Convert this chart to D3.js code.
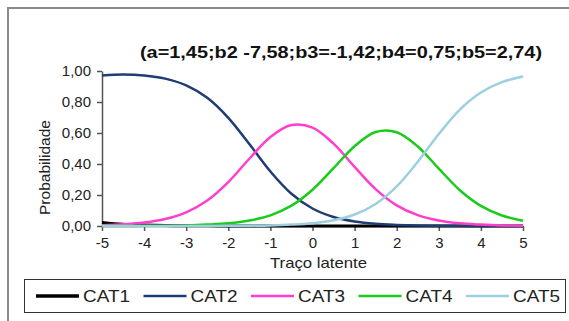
<!DOCTYPE html>
<html>
<head>
<meta charset="utf-8">
<script src="https://cdnjs.cloudflare.com/ajax/libs/d3/7.8.5/d3.min.js"></script>
<style>
  body { margin: 0; background: #fff; }
  svg { display: block; font-family: "Liberation Sans", Arial, sans-serif; }
</style>
</head>
<body>
<svg id="chart" width="569" height="321"></svg>
<script>
// latent trait values (x) and category curves
let theta = [-5, -4.5, -4, -3.5, -3, -2.5, -2, -1.5, -1, -0.5, 0, 0.5, 1, 1.5, 2, 2.5, 3, 3.5, 4, 4.5, 5];
let cat1 = [0.023, 0.011, 0.006, 0.003, 0.001, 0.001, 0, 0, 0, 0, 0, 0, 0, 0, 0, 0, 0, 0, 0, 0, 0];
let cat2 = [0.971, 0.977, 0.971, 0.951, 0.907, 0.827, 0.698, 0.529, 0.352, 0.208, 0.113, 0.058, 0.029, 0.014, 0.007, 0.003, 0.002, 0.001, 0, 0, 0];
let cat3 = [0.005, 0.011, 0.022, 0.045, 0.088, 0.164, 0.283, 0.434, 0.574, 0.651, 0.635, 0.531, 0.381, 0.238, 0.133, 0.07, 0.035, 0.017, 0.009, 0.004, 0.002];
let cat4 = [0, 0, 0.001, 0.002, 0.004, 0.009, 0.017, 0.035, 0.069, 0.131, 0.234, 0.373, 0.515, 0.606, 0.605, 0.513, 0.37, 0.231, 0.13, 0.068, 0.034];
let cat5 = [0, 0, 0, 0, 0, 0, 0.001, 0.002, 0.004, 0.009, 0.018, 0.037, 0.074, 0.142, 0.255, 0.414, 0.593, 0.751, 0.861, 0.928, 0.964];

let seriesNames = ["CAT1", "CAT2", "CAT3", "CAT4", "CAT5"];
let seriesColors = ["#000000", "#1f3d74", "#ff3fcc", "#19cc19", "#9ccfe0"];
let xTicks = [-5, -4, -3, -2, -1, 0, 1, 2, 3, 4, 5];
let yTicks = [0, 0.2, 0.4, 0.6, 0.8, 1];
let title = "(a=1,45;b2 -7,58;b3=-1,42;b4=0,75;b5=2,74)";

const svg = d3.select("#chart");

// outer frame (runs off the right and bottom edges)
svg.append("rect")
  .attr("x", 8).attr("y", 8)
  .attr("width", 620).attr("height", 400)
  .attr("fill", "#fff")
  .attr("stroke", "#8a8a8a")
  .attr("stroke-width", 2);

const xScale = d3.scaleLinear().domain([-5, 5]).range([102, 523]);
const yScale = d3.scaleLinear().domain([0, 1]).range([226, 71]);

const fmt = (d) => d3.format(".2f")(d).replace(".", ",");

// axes
const yAxis = d3.axisLeft(yScale).tickValues(yTicks).tickFormat(fmt)
  .tickSize(5).tickSizeOuter(0).tickPadding(6);
const xAxis = d3.axisBottom(xScale).tickValues(xTicks).tickFormat((d) => String(d))
  .tickSize(5).tickSizeOuter(0).tickPadding(6);

const gy = svg.append("g").attr("transform", "translate(102,0)").call(yAxis);
const gx = svg.append("g").attr("transform", "translate(0,226)").call(xAxis);

[gx, gy].forEach((g) => {
  g.selectAll("path, line").attr("stroke", "#555").attr("stroke-width", 1.5);
  g.selectAll("text").attr("fill", "#222").style("font-size", "15px");
});

// curves (smoothed like the spreadsheet lines)
const line = d3.line()
  .x((d, i) => xScale(theta[i]))
  .y((d) => yScale(d))
  .curve(d3.curveCatmullRom.alpha(0.5));

[cat1, cat2, cat3, cat4, cat5].forEach((s, i) => {
  svg.append("path")
    .datum(s)
    .attr("d", line)
    .attr("fill", "none")
    .attr("stroke", seriesColors[i])
    .attr("stroke-width", i === 0 ? 3 : 2.5);
});

// title and axis labels (text in the source is a bit wide, so stretch it)
svg.append("text")
  .attr("x", 140).attr("y", 58)
  .attr("textLength", 402)
  .attr("lengthAdjust", "spacingAndGlyphs")
  .style("font-size", "16px")
  .style("font-weight", "bold")
  .attr("fill", "#111")
  .text(title);

svg.append("text")
  .attr("x", 270).attr("y", 268)
  .attr("textLength", 97)
  .attr("lengthAdjust", "spacingAndGlyphs")
  .style("font-size", "15px")
  .attr("fill", "#222")
  .text("Traço latente");

svg.append("text")
  .attr("transform", "translate(50,215) rotate(-90)")
  .attr("textLength", 95)
  .attr("lengthAdjust", "spacingAndGlyphs")
  .style("font-size", "15px")
  .attr("fill", "#222")
  .text("Probabilidade");

// legend
svg.append("rect")
  .attr("x", 24.5).attr("y", 279.5)
  .attr("width", 541).attr("height", 33)
  .attr("fill", "#fff")
  .attr("stroke", "#333")
  .attr("stroke-width", 1);

seriesNames.forEach((name, i) => {
  const x0 = 36 + i * 107.5;
  svg.append("line")
    .attr("x1", x0).attr("x2", x0 + 43)
    .attr("y1", 296).attr("y2", 296)
    .attr("stroke", seriesColors[i])
    .attr("stroke-width", i === 0 ? 3.5 : 2.5);
  svg.append("text")
    .attr("x", x0 + 47).attr("y", 302)
    .attr("textLength", 47)
    .attr("lengthAdjust", "spacingAndGlyphs")
    .style("font-size", "17px")
    .attr("fill", "#222")
    .text(name);
});
</script>
</body>
</html>
